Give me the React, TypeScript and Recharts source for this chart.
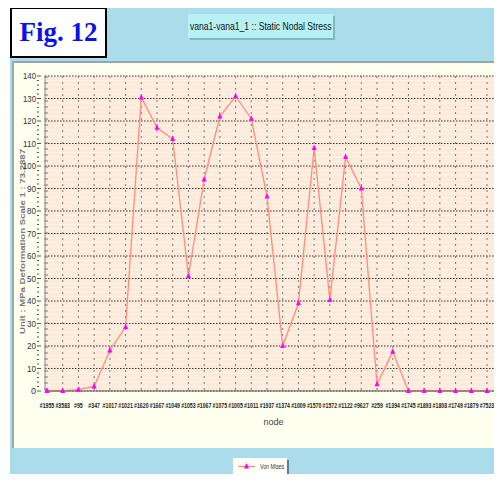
import React from 'react';
import { LineChart, Line, XAxis, YAxis, CartesianGrid } from 'recharts';

const nodes = [
  '#1955', '#3583', '#95', '#347', '#1017', '#1021', '#1620', '#1667', '#1049', '#1053',
  '#1067', '#1075', '#1005', '#1011', '#1937', '#1374', '#1009', '#1570', '#1572', '#1122',
  '#9627', '#259', '#1394', '#1745', '#1893', '#1808', '#1749', '#1879', '#7523',
];
const vonMises = [
  0, 0, 0.6, 2, 18, 28.5, 130.5, 117, 112, 51,
  94, 122, 131, 121, 86.5, 20, 39, 108, 40.5, 104,
  90, 3, 17.5, 0, 0, 0, 0, 0, 0,
];
const yMajor = [0, 10, 20, 30, 40, 50, 60, 70, 80, 90, 100, 110, 120, 130, 140];
const yMinor = Array.from({ length: 71 }, (_, i) => i * 2);

const data = nodes.map((node, i) => ({ node, vm: vonMises[i] }));

const LINE = '#FF8C7C';
const MARK = '#FF00FF';

const XTick = (props: any) => {
  const { x, y, payload } = props;
  const s = String(payload.value);
  return (
    <text x={x} y={y + 9} textAnchor="middle" fontSize={8} fontWeight="bold" fontFamily="Liberation Sans" fill="#1a1a1a"
      textLength={s.length * 2.9} lengthAdjust="spacingAndGlyphs">
      {s}
    </text>
  );
};

const YTick = (props: any) => {
  const { x, y, payload } = props;
  const major = payload.value % 10 === 0;
  return (
    <g>
      <line x1={x} x2={x + (major ? 4 : 2)} y1={y} y2={y} stroke="#555" strokeWidth={1} />
      {major && (
        <text x={x - 1} y={y + 3} textAnchor="end" fontSize={9} fontFamily="Liberation Sans" fill="#333"
          textLength={payload.value >= 100 ? 13 : payload.value >= 10 ? 9 : 5} lengthAdjust="spacingAndGlyphs">
          {payload.value}
        </text>
      )}
    </g>
  );
};

const YLabel = (props: any) => {
  const { viewBox } = props;
  const cx = viewBox.x + 13;
  const cy = viewBox.y + viewBox.height / 2 + 8;
  return (
    <text x={cx} y={cy} transform={`rotate(-90 ${cx} ${cy})`} textAnchor="middle" fontSize={8}
      fontFamily="Liberation Sans" fontWeight="bold" fill="#777" textLength={185} lengthAdjust="spacingAndGlyphs">
      Unit : MPa  Deformation Scale 1 : 73.2887
    </text>
  );
};

const Tri = (props: any) => {
  const { cx, cy, index } = props;
  return <path key={`d-${index}`} d={`M${cx},${cy - 3.5} L${cx + 2.5},${cy + 2} L${cx - 2.5},${cy + 2} Z`} fill={MARK} />;
};

const LegendBox = () => (
  <svg width={56} height={18} style={{ position: 'absolute', left: 233, top: 458 }}>
    <rect x={2} y={2} width={54} height={16} fill="#5f7f88" />
    <rect x={0} y={0} width={54} height={16} fill="#FFFFF8" />
    <line x1={5} x2={22} y1={8.5} y2={8.5} stroke={LINE} strokeWidth={1.3} />
    <path d="M13.5,5 L16,10.5 L11,10.5 Z" fill={MARK} />
    <text x={27} y={11} fontSize={7} fontFamily="Liberation Sans" fill="#333" textLength={24}
      lengthAdjust="spacingAndGlyphs">Von Mises</text>
  </svg>
);

export default function App() {
  return (
    <div style={{ position: 'relative', width: 502, height: 482, margin: -8, background: '#fff', overflow: 'hidden' }}>
      <div style={{ position: 'absolute', left: 10, top: 8, width: 492, height: 474, background: '#AADCEB' }} />
      <div style={{
        position: 'absolute', left: 10, top: 7, width: 93, height: 47, background: '#fff', border: '2px solid #000',
        display: 'flex', alignItems: 'center', justifyContent: 'center',
        fontFamily: 'Liberation Serif', fontWeight: 'bold', fontSize: 27, color: '#0A10E8',
      }}>Fig. 12</div>
      <div style={{
        position: 'absolute', left: 188, top: 14, width: 145, height: 24, background: '#B8F1F4',
        boxShadow: '2px 2px 0 #7fb7c4', display: 'flex', alignItems: 'center', justifyContent: 'center',
        fontFamily: 'Liberation Sans', fontSize: 11, color: '#111', whiteSpace: 'nowrap', overflow: 'hidden',
      }}>
        <span style={{ display: 'inline-block', transform: 'scaleX(0.78)' }}>vana1-vana1_1 :: Static Nodal Stress</span>
      </div>
      <div style={{
        position: 'absolute', left: 12, top: 61, width: 490, height: 387, background: '#FFFFF0',
        borderTop: '2px solid #8FA9AE', borderLeft: '2px solid #9AA', boxSizing: 'border-box',
      }} />
      <div style={{ position: 'absolute', left: 12, top: 61 }}>
        <LineChart width={490} height={387} data={data} margin={{ top: 15, right: 0, bottom: 17, left: 0 }}>
          <CartesianGrid fill="#FDEADB" vertical={false} horizontalValues={yMinor.filter(v => v % 10 !== 0)}
            stroke="#FBF3E6" strokeWidth={1} />
          <CartesianGrid vertical={false} horizontalValues={yMajor} stroke="#333" strokeDasharray="1.5 1.5" />
          <CartesianGrid horizontal={false} stroke="#777" strokeDasharray="2 4" />
          <XAxis dataKey="node" scale="point" interval={0} padding={{ left: 2, right: 15 }} height={40}
            tick={<XTick />} tickLine={false} axisLine={{ stroke: '#666' }}
            label={{ value: 'node', position: 'insideBottom', offset: 6, fontSize: 9, fill: '#444', fontFamily: 'Liberation Sans' }} />
          <YAxis domain={[0, 140]} ticks={yMinor} interval={0} width={33} tick={<YTick />} tickLine={false}
            axisLine={{ stroke: '#888' }} label={{ content: <YLabel /> }} />
          <Line type="linear" dataKey="vm" name="Von Mises" stroke={LINE} strokeWidth={1.3} dot={Tri}
            activeDot={false} isAnimationActive={false} />
        </LineChart>
      </div>
      <LegendBox />
    </div>
  );
}
